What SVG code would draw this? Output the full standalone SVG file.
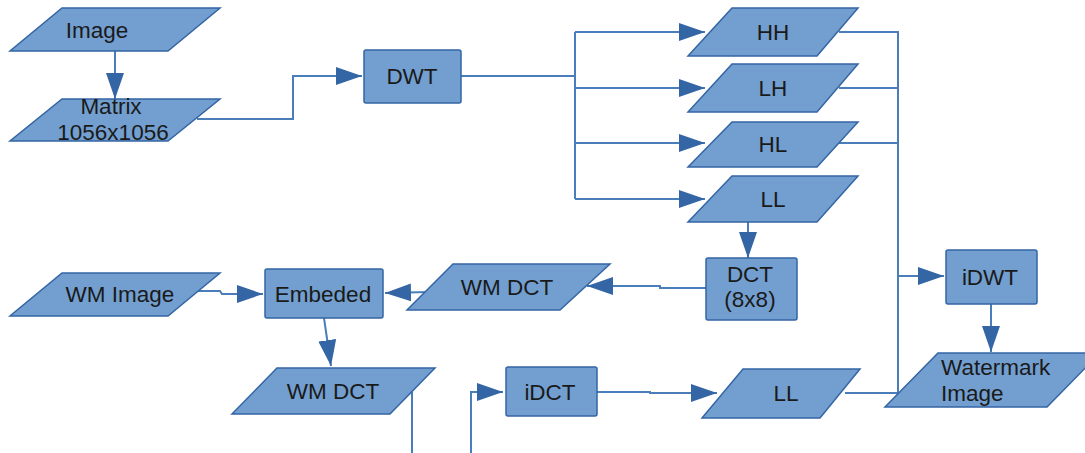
<svg xmlns="http://www.w3.org/2000/svg" width="1085" height="453" viewBox="0 0 1085 453">
<style>
.n{fill:#729fcf;stroke:#3465a4;stroke-width:1.5}
.t{font-family:"Liberation Sans",Arial,sans-serif;font-size:22.5px;fill:#1a1a1a;text-anchor:middle}
.tl{font-family:"Liberation Sans",Arial,sans-serif;font-size:22.5px;fill:#1a1a1a}
.c{fill:none;stroke:#4a7ebb;stroke-width:2}
.a{marker-end:url(#ah)}
</style>
<defs>
<marker id="ah" viewBox="0 0 26 18" refX="26" refY="9" markerWidth="26" markerHeight="18" markerUnits="userSpaceOnUse" orient="auto">
<path d="M0,0 L26,9 L0,18 z" fill="#3465a4"/>
</marker>
</defs>
<rect width="1085" height="453" fill="#ffffff"/>
<g id="connectors">
<path class="c a" d="M115,51 L115,99"/>
<path class="c a" d="M197,119 L293,119 L293,76 L362,76"/>
<path class="c" d="M461,76 L575,76 M575,32 L575,199"/>
<path class="c a" d="M575,32 L705,32"/>
<path class="c a" d="M575,88 L705,88"/>
<path class="c a" d="M575,143 L705,143"/>
<path class="c a" d="M575,199 L705,199"/>
<path class="c" d="M839,32 L898,32 L898,393 M839,88 L898,88 M839,143 L898,143 M845,393 L898,393"/>
<path class="c a" d="M898,276 L944,276"/>
<path class="c a" d="M991,304 L991,352"/>
<path class="c a" d="M748,222 L748,258"/>
<path class="c a" d="M706,288 L660,288 L660,286 L587,286"/>
<path class="c a" d="M430,292 L385,293"/>
<path class="c a" d="M195,291 L220,291 L222,294 L263,294"/>
<path class="c a" d="M324,318 L331,366"/>
<path class="c" d="M412,392 L412,453"/>
<path class="c a" d="M471,453 L471,392 L503,392"/>
<path class="c a" d="M597,392 L650,392 L650,393 L717,393"/>
</g>
<g id="image"><polygon class="n" points="62,8 220,8 168,51 10,51"/><text class="t" x="97" y="38">Image</text></g>
<g id="matrix"><polygon class="n" points="62,99 220,99 168,141 10,141"/><text class="t" x="111" y="114">Matrix</text><text class="t" x="113" y="140">1056x1056</text></g>
<g id="dwt"><rect class="n" x="364" y="50" width="97" height="53" rx="2"/><text class="t" x="412" y="84">DWT</text></g>
<g id="hh"><polygon class="n" points="732,8 858,8 817,56 688,56"/><text class="t" x="773" y="40">HH</text></g>
<g id="lh"><polygon class="n" points="732,64 858,64 817,112 688,112"/><text class="t" x="773" y="96">LH</text></g>
<g id="hl"><polygon class="n" points="732,122 858,122 817,167 688,167"/><text class="t" x="773" y="152">HL</text></g>
<g id="ll"><polygon class="n" points="732,176 858,176 817,222 688,222"/><text class="t" x="773" y="207">LL</text></g>
<g id="dct"><rect class="n" x="706" y="258" width="91" height="62" rx="2"/><text class="t" x="750" y="282">DCT</text><text class="t" x="750" y="307">(8x8)</text></g>
<g id="wmdct1"><polygon class="n" points="453,264 610,264 560,310 407,310"/><text class="t" x="507" y="295">WM DCT</text></g>
<g id="embeded"><rect class="n" x="265" y="269" width="118" height="49" rx="2"/><text class="t" x="323" y="302">Embeded</text></g>
<g id="wmimage"><polygon class="n" points="62,273 220,273 168,316 10,316"/><text class="t" x="120" y="302">WM Image</text></g>
<g id="wmdct2"><polygon class="n" points="277,368 435,368 390,414 232,414"/><text class="t" x="333" y="399">WM DCT</text></g>
<g id="idct"><rect class="n" x="506" y="367" width="91" height="49" rx="2"/><text class="t" x="550" y="400">iDCT</text></g>
<g id="ll2"><polygon class="n" points="743,369 860,369 820,418 702,418"/><text class="t" x="786" y="401">LL</text></g>
<g id="idwt"><rect class="n" x="946" y="250" width="91" height="54" rx="2"/><text class="t" x="990" y="285">iDWT</text></g>
<g id="watermark"><polygon class="n" points="938,353 1100,353 1047,407 885,407"/><text class="tl" x="941" y="375">Watermark</text><text class="tl" x="941" y="401">Image</text></g>
</svg>
